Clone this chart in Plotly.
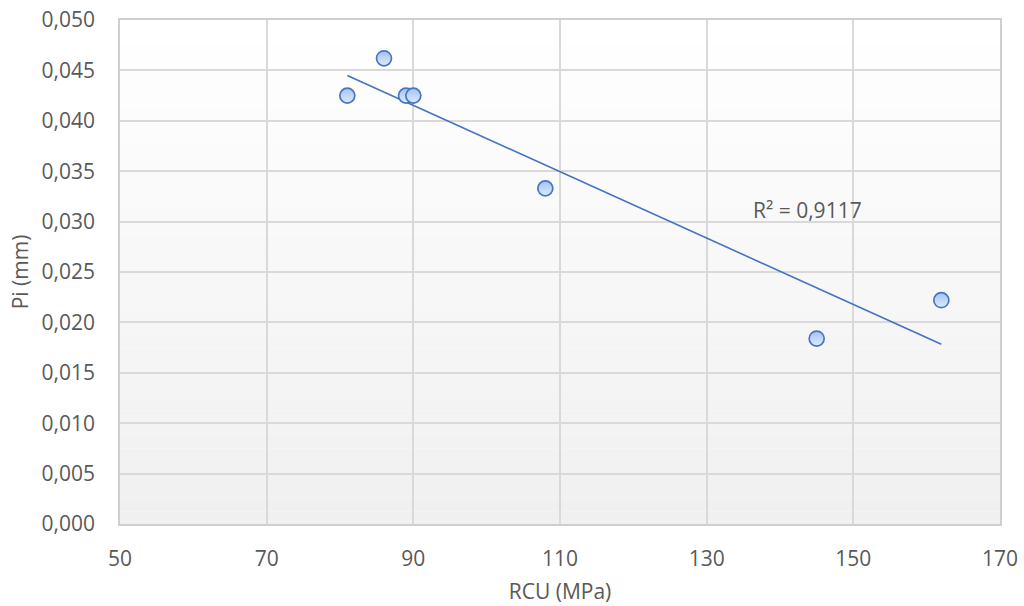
import numpy as np
import plotly.graph_objects as go

# Data
rcu_mpa = [81, 86, 89, 90, 108, 145, 162]
pi_mm = [0.0425, 0.0462, 0.0425, 0.0425, 0.0333, 0.0184, 0.0222]
x_ticks = [50, 70, 90, 110, 130, 150, 170]
y_ticks = [0.000, 0.005, 0.010, 0.015, 0.020, 0.025, 0.030, 0.035, 0.040, 0.045, 0.050]
r2_label = "R² = 0,9117"

# Linear trendline (least squares) over the data range
slope, intercept = np.polyfit(rcu_mpa, pi_mm, 1)
trend_x = [min(rcu_mpa), max(rcu_mpa)]
trend_y = [slope * v + intercept for v in trend_x]

FONT = "Open Sans"
TXT = "#595959"
FS = 21

fig = go.Figure()
fig.add_trace(go.Scatter(
    x=trend_x, y=trend_y, mode="lines",
    line=dict(color="#4472c4", width=1.6), hoverinfo="skip", showlegend=False))
fig.add_trace(go.Scatter(
    x=rcu_mpa, y=pi_mm, mode="markers", showlegend=False,
    marker=dict(size=15, color="#a4c2f2",
                gradient=dict(type="vertical", color="#dfeafd"),
                line=dict(color="#4576c0", width=1.7))))

# gradient background of the plot area
n = 40
for i in range(n):
    t = i / (n - 1)
    c = int(round(255 - t * (255 - 240)))
    fig.add_shape(type="rect", xref="paper", yref="paper",
                  x0=0, x1=1, y0=1 - (i + 1) / n, y1=1 - i / n,
                  fillcolor=f"rgb({c},{c},{c})", line=dict(width=0), layer="below")

fig.add_annotation(x=136, y=0.0312, text=r2_label, showarrow=False,
                   xanchor="left", yanchor="middle",
                   font=dict(family=FONT, size=FS, color=TXT))

fig.update_layout(
    width=1024, height=606,
    margin=dict(l=120, r=24, t=20, b=82, autoexpand=False),
    paper_bgcolor="white", plot_bgcolor="rgba(0,0,0,0)",
    separators=",.",
    font=dict(family=FONT, size=FS, color=TXT),
)
fig.update_xaxes(
    range=[50, 170], tickvals=x_ticks, ticktext=[str(v) for v in x_ticks],
    showgrid=True, gridcolor="#d9d9d9", gridwidth=1.5, zeroline=False,
    showline=True, linecolor="#cfcfcf", linewidth=1.5, mirror=True,
    ticks="outside", ticklen=15, tickcolor="rgba(0,0,0,0)",
    tickfont=dict(family=FONT, size=FS, color=TXT),
    title=dict(text="RCU (MPa)", standoff=13, font=dict(family=FONT, size=FS, color=TXT)),
    automargin=False)
fig.update_yaxes(
    range=[0, 0.05], tickvals=y_ticks, tickformat=".3f",
    showgrid=True, gridcolor="#d9d9d9", gridwidth=1.5, zeroline=False,
    showline=True, linecolor="#cfcfcf", linewidth=1.5, mirror=True,
    ticks="outside", ticklen=19, tickcolor="rgba(0,0,0,0)",
    tickfont=dict(family=FONT, size=FS, color=TXT),
    title=dict(text="Pi (mm)", standoff=7, font=dict(family=FONT, size=FS, color=TXT)),
    automargin=False)

fig.write_html("out.html")
